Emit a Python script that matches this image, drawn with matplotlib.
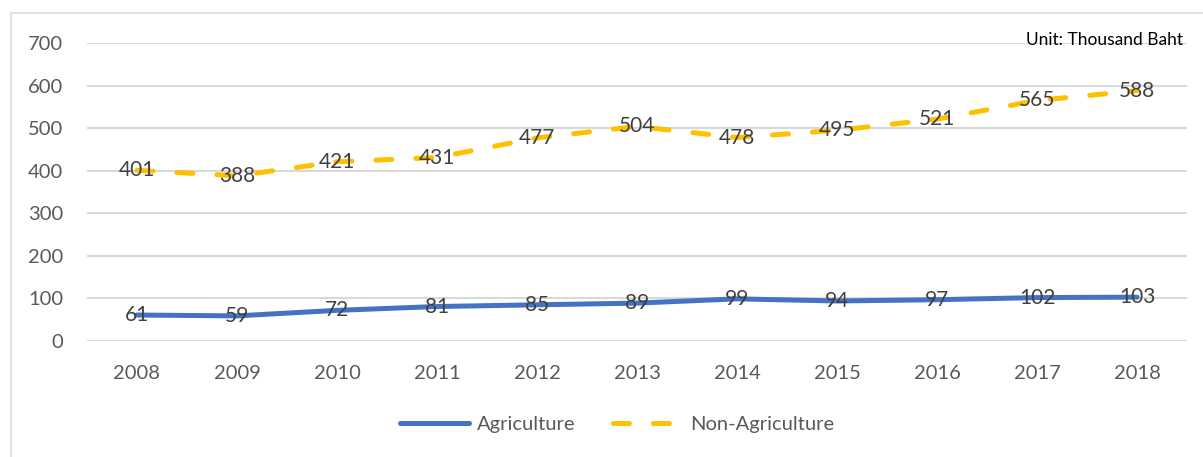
import matplotlib.pyplot as plt
from matplotlib.patches import Rectangle

# income per household, thousand baht
years = ["2008", "2009", "2010", "2011", "2012", "2013", "2014", "2015", "2016", "2017", "2018"]
agriculture = [61, 59, 72, 81, 85, 89, 99, 94, 97, 102, 103]
non_agriculture = [401, 388, 421, 431, 477, 504, 478, 495, 521, 565, 588]

plt.rcParams['font.family'] = ['Lato', 'DejaVu Sans']

W, H = 1203, 457
fig = plt.figure(figsize=(W / 100, H / 100), dpi=100)
# plot area in pixels: x 87..1187, y 43..341
ax = fig.add_axes([87 / W, 1 - 341 / H, 1100 / W, 298 / H])

# outer chart border (runs off the right and bottom edges)
fig.patches.append(Rectangle((10.5 / W, -0.1), 1.2, 1 - 13.5 / H + 0.1,
                             transform=fig.transFigure, fill=False,
                             edgecolor="#D9D9D9", linewidth=1.2))

x = list(range(len(years)))
ax.plot(x, agriculture, color="#4472C4", linewidth=3.6, solid_capstyle="round",
        label="Agriculture", zorder=3)
ax.plot(x, non_agriculture, color="#FFC000", linewidth=3.6, dashes=(3.2, 4.8),
        dash_capstyle="round", label="Non-Agriculture", zorder=3)

for xi, v in zip(x, agriculture):
    ax.text(xi, v, str(v), ha="center", va="center", fontsize=15, color="#404040", zorder=4)
for xi, v in zip(x, non_agriculture):
    ax.text(xi, v, str(v), ha="center", va="center", fontsize=15, color="#404040", zorder=4)

ax.set_xlim(-0.5, len(years) - 0.5)
ax.set_ylim(0, 700)
ax.set_yticks(range(0, 701, 100))
ax.set_xticks(x)
ax.set_xticklabels(years)
ax.tick_params(length=0, labelsize=14.5, labelcolor="#595959")
ax.tick_params(axis="y", pad=17)
ax.tick_params(axis="x", pad=17)
ax.grid(axis="y", color="#D9D9D9", linewidth=1.5)
ax.set_axisbelow(True)
for s in ax.spines.values():
    s.set_visible(False)

ax.text(1183 / W, 1 - 40 / H, "Unit: Thousand Baht", transform=fig.transFigure,
        ha="right", va="center", fontsize=12.5, color="#000000")

leg = fig.legend(loc="center", bbox_to_anchor=(617 / W, 1 - 424 / H), ncol=2,
                 frameon=False, fontsize=14.5, handlelength=3.4, columnspacing=1.9,
                 handletextpad=0.4)
for t in leg.get_texts():
    t.set_color("#595959")

fig.savefig("out.png", dpi=100)
